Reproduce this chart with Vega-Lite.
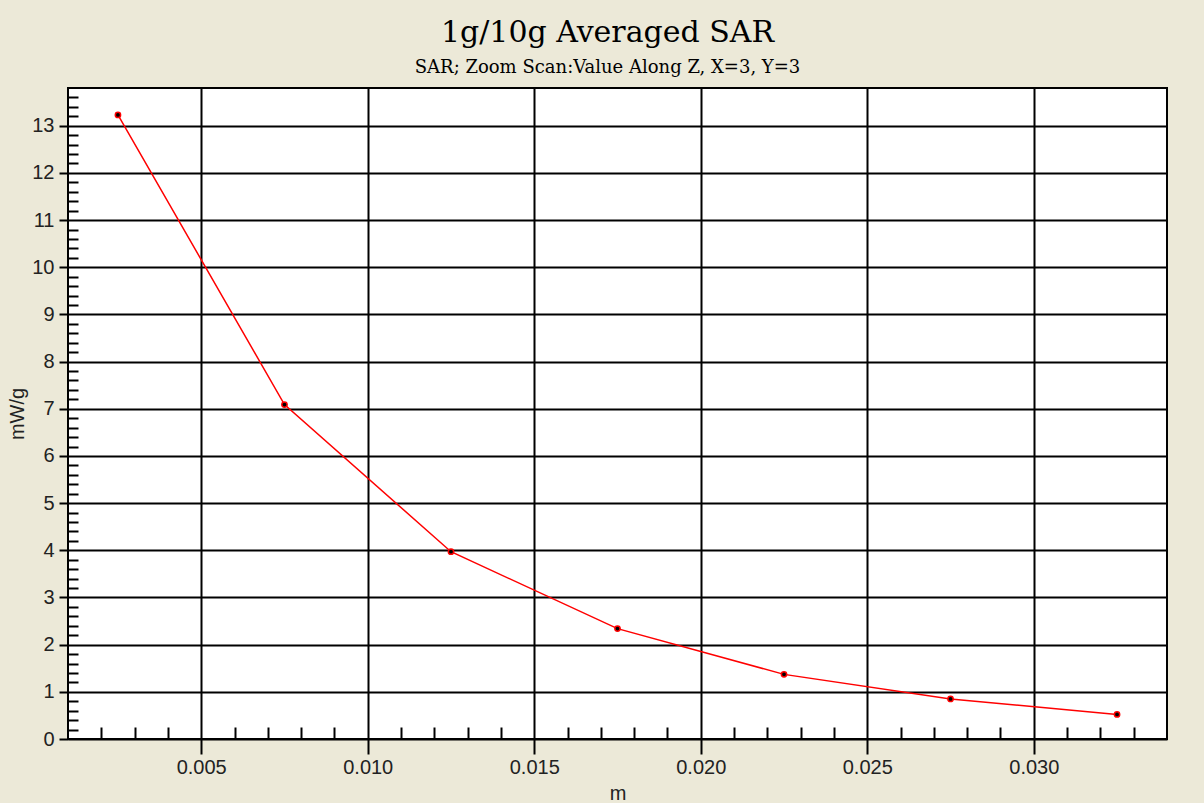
{
  "$schema": "https://vega.github.io/schema/vega-lite/v6.json",
  "autosize": {"type": "none"},
  "padding": {"left": 68, "top": 88, "right": 37, "bottom": 64},
  "width": 1099,
  "height": 651,
  "background": "#ECE9D8",
  "title": {
    "text": "1g/10g Averaged SAR",
    "subtitle": "SAR; Zoom Scan:Value Along Z, X=3, Y=3",
    "anchor": "middle",
    "frame": "group",
    "dx": -10,
    "offset": 11,
    "font": "DejaVu Serif",
    "fontSize": 30,
    "fontWeight": "normal",
    "color": "#000000",
    "subtitleFont": "DejaVu Serif",
    "subtitleFontSize": 18,
    "subtitleColor": "#000000",
    "subtitlePadding": 11
  },
  "config": {
    "view": {"fill": "white", "stroke": "black", "strokeWidth": 2}
  },
  "data": {
    "values": [
      {"x": 0.0025, "y": 13.23},
      {"x": 0.0075, "y": 7.09},
      {"x": 0.0125, "y": 3.97},
      {"x": 0.0175, "y": 2.34},
      {"x": 0.0225, "y": 1.37},
      {"x": 0.0275, "y": 0.85},
      {"x": 0.0325, "y": 0.52}
    ]
  },
  "resolve": {"scale": {"x": "independent", "y": "independent"}, "axis": {"x": "independent", "y": "independent"}},
  "layer": [
    {
      "mark": {"type": "line", "color": "#FF0000", "strokeWidth": 1.5},
      "encoding": {
        "x": {
          "field": "x", "type": "quantitative",
          "scale": {"domain": [0.001, 0.034], "nice": false, "zero": false},
          "axis": {
            "orient": "bottom",
            "values": [0.005, 0.010, 0.015, 0.020, 0.025, 0.030],
            "format": ".3f",
            "grid": true, "gridColor": "#000000", "gridWidth": 2, "gridOpacity": 1,
            "domain": false,
            "tickSize": 15, "tickColor": "#000000", "tickWidth": 2,
            "labelFont": "Liberation Sans", "labelFontSize": 20, "labelColor": "#222222", "labelPadding": 3,
            "title": "m", "titleFont": "Liberation Sans", "titleFontSize": 20, "titleFontWeight": "normal", "titleColor": "#222222", "titlePadding": 6
          }
        },
        "y": {
          "field": "y", "type": "quantitative",
          "scale": {"domain": [0, 13.8], "nice": false, "zero": false},
          "axis": {
            "orient": "left",
            "values": [0, 1, 2, 3, 4, 5, 6, 7, 8, 9, 10, 11, 12, 13],
            "grid": true, "gridColor": "#000000", "gridWidth": 2, "gridOpacity": 1,
            "domain": false,
            "tickSize": 9, "tickColor": "#000000", "tickWidth": 2,
            "labelFont": "Liberation Sans", "labelFontSize": 20, "labelColor": "#222222", "labelPadding": 5,
            "title": "mW/g", "titleFont": "Liberation Sans", "titleFontSize": 20, "titleFontWeight": "normal", "titleColor": "#222222", "titlePadding": 4
          }
        }
      }
    },
    {
      "mark": {"type": "point", "filled": false, "fill": "#000000", "stroke": "#FF0000", "strokeWidth": 1.5, "size": 28, "opacity": 1},
      "encoding": {
        "x": {
          "field": "x", "type": "quantitative",
          "scale": {"domain": [0.001, 0.034], "nice": false, "zero": false},
          "axis": {
            "orient": "bottom",
            "values": [0.002, 0.003, 0.004, 0.006, 0.007, 0.008, 0.009, 0.011, 0.012, 0.013, 0.014, 0.016, 0.017, 0.018, 0.019, 0.021, 0.022, 0.023, 0.024, 0.026, 0.027, 0.028, 0.029, 0.031, 0.032, 0.033],
            "labels": false, "grid": false, "domain": false,
            "tickSize": -12, "tickColor": "#000000", "tickWidth": 2,
            "title": null
          }
        },
        "y": {
          "field": "y", "type": "quantitative",
          "scale": {"domain": [0, 13.8], "nice": false, "zero": false},
          "axis": {
            "orient": "left",
            "values": [0.2, 0.4, 0.6, 0.8, 1.2, 1.4, 1.6, 1.8, 2.2, 2.4, 2.6, 2.8, 3.2, 3.4, 3.6, 3.8, 4.2, 4.4, 4.6, 4.8, 5.2, 5.4, 5.6, 5.8, 6.2, 6.4, 6.6, 6.8, 7.2, 7.4, 7.6, 7.8, 8.2, 8.4, 8.6, 8.8, 9.2, 9.4, 9.6, 9.8, 10.2, 10.4, 10.6, 10.8, 11.2, 11.4, 11.6, 11.8, 12.2, 12.4, 12.6, 12.8, 13.2, 13.4, 13.6],
            "labels": false, "grid": false, "domain": false,
            "tickSize": -10, "tickColor": "#000000", "tickWidth": 2,
            "title": null
          }
        }
      }
    }
  ]
}
